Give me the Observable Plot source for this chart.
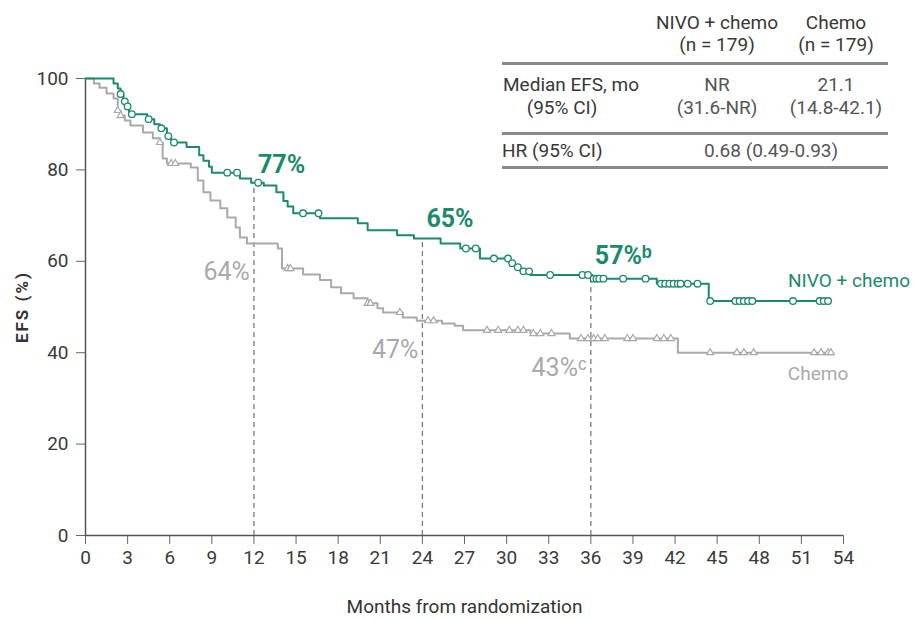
<!DOCTYPE html>
<html>
<head>
<meta charset="utf-8">
<script src="https://cdn.jsdelivr.net/npm/d3@7"></script>
<script src="https://cdn.jsdelivr.net/npm/@observablehq/plot@0.6"></script>
<style>
  body { margin: 0; background: #fff; }
  #wrap { position: relative; width: 913px; height: 621px; overflow: hidden;
          font-family: Roboto, "Liberation Sans", sans-serif; }
  .cell { position: absolute; white-space: nowrap; font-size: 19px; line-height: 1; color: #383838; }
  .val { color: #555; }
  .c { transform: translate(-50%, -50%); }
  .l { transform: translate(0, -50%); }
  .rule { position: absolute; left: 502px; width: 386px; height: 2.5px; background: #8a8a8a; }
</style>
</head>
<body>
<div id="wrap"></div>
<script>
// Event-free survival, Kaplan–Meier step points (months, %)
const nivoTime = [0, 2.0, 2.3, 2.5, 2.7, 2.9, 3.1, 4.4, 4.9, 5.3, 5.8, 6.1, 7.2, 8.1, 8.4, 8.8, 9.0, 11.0, 11.8, 12.7, 13.6, 14.1, 14.4, 14.8, 16.7, 19.4, 20.1, 22.2, 23.4, 25.3, 26.7, 28.1, 30.2, 30.6, 31.0, 31.7, 36.1, 40.7, 44.4, 52.9];
const nivoEFS  = [100, 98.9, 97.8, 96.6, 95.0, 93.9, 92.2, 91.1, 90.0, 89.1, 87.4, 86.0, 85.0, 83.2, 82.0, 80.7, 79.4, 78.1, 77.2, 76.6, 75.1, 73.2, 72.0, 70.5, 69.4, 68.3, 66.8, 65.7, 65.0, 63.9, 62.8, 60.6, 59.6, 58.7, 57.8, 57.0, 56.2, 55.1, 51.3, 51.3];
const chemoTime = [0, 0.6, 1.0, 1.5, 2.0, 2.3, 2.5, 2.8, 3.2, 4.1, 4.8, 5.3, 5.5, 5.8, 7.5, 8.0, 8.4, 8.9, 9.6, 10.1, 10.7, 11.0, 11.5, 13.7, 14.0, 15.5, 16.7, 17.5, 18.2, 19.1, 20.1, 20.8, 21.2, 22.6, 23.6, 25.4, 26.3, 26.9, 31.7, 34.5, 42.2, 53.1];
const chemoEFS  = [100, 98.9, 98.0, 96.7, 95.6, 93.0, 91.9, 90.8, 89.7, 88.2, 86.9, 86.0, 82.5, 81.4, 80.5, 77.7, 75.1, 73.3, 71.6, 69.6, 67.4, 65.2, 63.9, 62.8, 58.4, 57.1, 55.9, 54.3, 53.0, 51.9, 50.8, 49.7, 48.8, 47.7, 47.0, 46.4, 45.9, 44.9, 44.2, 43.1, 40.0, 40.0];

// Censoring times (months)
const nivoCensor = [2.5, 2.8, 3.0, 3.3, 4.5, 5.4, 5.9, 6.3, 10.1, 10.8, 12.3, 15.5, 16.6, 27.1, 27.8, 29.1, 30.1, 30.4, 30.8, 31.2, 31.6, 33.1, 35.4, 35.8, 36.2, 36.4, 36.6, 36.9, 38.3, 39.9, 41.0, 41.3, 41.6, 41.9, 42.2, 42.4, 42.9, 43.6, 44.5, 46.3, 46.6, 46.9, 47.2, 47.5, 50.4, 52.3, 52.6, 52.9];
const chemoCensor = [2.3, 2.5, 5.3, 6.1, 6.4, 14.4, 14.6, 20.1, 20.3, 22.4, 24.4, 24.8, 28.6, 29.4, 30.2, 30.8, 31.2, 31.9, 32.4, 33.2, 35.3, 35.8, 36.2, 36.5, 37.0, 38.6, 39.0, 40.7, 41.2, 41.7, 44.5, 46.4, 46.9, 47.6, 51.9, 52.4, 52.9, 53.1];

// Landmark estimates
const landmarks = [12, 24, 36];
const nivoLandmark = [77, 65, 57];
const chemoLandmark = [64, 47, 43];
const nivoNote = ["", "", "ᵇ"];
const chemoNote = ["", "", "ᶜ"];

// Axes
const xTicks = d3.range(0, 55, 3);
const yTicks = [0, 20, 40, 60, 80, 100];
const seriesNames = ["NIVO + chemo", "Chemo"];

// Summary table
const tableHead = [["NIVO + chemo", "(n = 179)"], ["Chemo", "(n = 179)"]];
const medianLabel = ["Median EFS, mo", "(95% CI)"];
const medianEFS = ["NR", "21.1"];
const medianCI = ["(31.6-NR)", "(14.8-42.1)"];
const hrLabel = "HR (95% CI)";
const hrValue = "0.68 (0.49-0.93)";

const GREEN = "#1b8a6b";
const GREY = "#a9a9a9";
const FONT = 'Roboto, "Liberation Sans", sans-serif';

const toRows = (t, v) => t.map((d, i) => ({t: d, v: v[i]}));
const stepAt = (t, v) => x => v[Math.max(0, d3.bisectRight(t, x) - 1)];
const nivoAt = stepAt(nivoTime, nivoEFS);
const chemoAt = stepAt(chemoTime, chemoEFS);

const nivoRows = toRows(nivoTime, nivoEFS);
const chemoRows = toRows(chemoTime, chemoEFS);
const nivoCens = nivoCensor.map(t => ({t, v: nivoAt(t)}));
const chemoCens = chemoCensor.map(t => ({t, v: chemoAt(t)}));
const marks = landmarks.map((m, i) => ({m, n: nivoLandmark[i], c: chemoLandmark[i], nn: nivoNote[i], cn: chemoNote[i]}));

const plot = Plot.plot({
  width: 913,
  height: 621,
  marginLeft: 85,
  marginRight: 70,
  marginTop: 78,
  marginBottom: 86,
  x: {domain: [0, 54]},
  y: {domain: [0, 100]},
  style: {fontFamily: FONT, fontSize: "19px", color: "#3a3a3a", background: "#fff"},
  marks: [
    Plot.axisX({ticks: xTicks, tickSize: 9, tickPadding: 6, label: null, fontSize: 19, stroke: "#666"}),
    Plot.axisY({ticks: yTicks, tickSize: 9, tickPadding: 8, label: null, fontSize: 19, stroke: "#666"}),
    Plot.ruleX([0], {stroke: "#555", strokeWidth: 1.5}),
    Plot.ruleY([0], {stroke: "#555", strokeWidth: 1.5}),
    Plot.ruleX(marks, {x: "m", y1: 0, y2: "n", stroke: "#7a7a7a", strokeWidth: 1.3, strokeDasharray: "5,4"}),
    Plot.line(chemoRows, {x: "t", y: "v", curve: "step-after", stroke: GREY, strokeWidth: 2}),
    Plot.dot(chemoCens, {x: "t", y: "v", symbol: "triangle", r: 2.6, stroke: GREY, fill: "#fff", strokeWidth: 1.2}),
    Plot.line(nivoRows, {x: "t", y: "v", curve: "step-after", stroke: GREEN, strokeWidth: 2}),
    Plot.dot(nivoCens, {x: "t", y: "v", r: 3.3, stroke: GREEN, fill: "#fff", strokeWidth: 1.3}),
    Plot.text(marks, {x: "m", y: "n", text: d => `${d.n}%${d.nn}`, textAnchor: "start", dx: 4, dy: -19,
      fill: GREEN, fontSize: 25, fontWeight: "bold"}),
    Plot.text(marks, {x: "m", y: "c", text: d => `${d.c}%${d.cn}`, textAnchor: "end", dx: -4, dy: 29,
      fill: GREY, fontSize: 25}),
    // Series names, left-aligned just inside the curve ends
    Plot.text([nivoRows[nivoRows.length - 1]], {x: "t", y: "v", text: () => seriesNames[0], textAnchor: "start",
      dx: -40, dy: -20, fill: GREEN, fontSize: 19}),
    Plot.text([chemoRows[chemoRows.length - 1]], {x: "t", y: "v", text: () => seriesNames[1], textAnchor: "start",
      dx: -43, dy: 21, fill: GREY, fontSize: 19}),
    Plot.text(["Months from randomization"], {frameAnchor: "bottom", lineAnchor: "middle", dy: 71, fill: "#333", fontSize: 19}),
    Plot.text(["EFS (%)"], {frameAnchor: "left", textAnchor: "middle", lineAnchor: "middle", dx: -63, rotate: -90,
      fill: "#333", fontSize: 17, fontWeight: "bold"})
  ]
});

d3.select(plot).selectAll("text").filter(function() { return this.textContent === "EFS (%)"; })
  .style("letter-spacing", "2px");

const wrap = document.getElementById("wrap");
wrap.appendChild(plot);

// Summary table drawn as positioned HTML over the plot
function put(text, x, y, align, extra) {
  const el = document.createElement("div");
  el.className = `cell ${align}${extra ? " " + extra : ""}`;
  el.style.left = x + "px";
  el.style.top = y + "px";
  el.textContent = text;
  wrap.appendChild(el);
}
function rule(y) {
  const el = document.createElement("div");
  el.className = "rule";
  el.style.top = y + "px";
  wrap.appendChild(el);
}
const colX = [717, 836];
tableHead.forEach((h, i) => { put(h[0], colX[i], 22, "c"); put(h[1], colX[i], 44, "c"); });
rule(62);
put(medianLabel[0], 503, 84, "l");
put(medianLabel[1], 562, 107, "c");
medianEFS.forEach((v, i) => put(v, colX[i], 84, "c", "val"));
medianCI.forEach((v, i) => put(v, colX[i], 107, "c", "val"));
rule(132);
put(hrLabel, 502, 150, "l");
put(hrValue, 771, 150, "c", "val");
rule(166);
</script>
</body>
</html>
